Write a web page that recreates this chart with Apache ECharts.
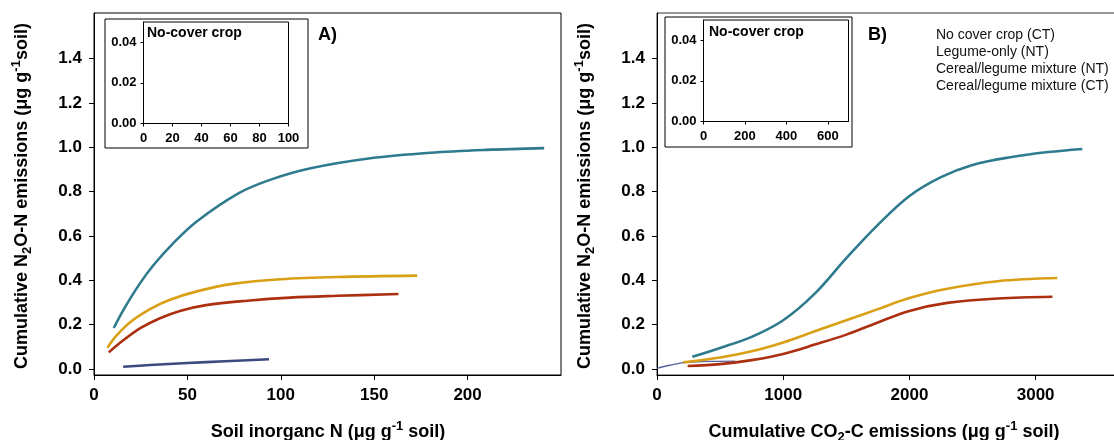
<!DOCTYPE html>
<html>
<head>
<meta charset="utf-8">
<script src="https://cdn.jsdelivr.net/npm/echarts@6/dist/echarts.min.js"></script>
<style>
  html, body { margin: 0; padding: 0; background: #fff; overflow: hidden; }
  #chart { width: 1130px; height: 440px; }
</style>
</head>
<body>
<div id="chart"></div>
<script>
// ---- Panel A: cumulative N2O-N vs soil inorganic N ----
const soilNLegumeNT   = [10.6, 16, 24.5, 32, 41.6, 55, 78, 95, 116, 148, 180, 210, 241];
const n2oALegumeNT    = [0.185, 0.27, 0.385, 0.47, 0.56, 0.665, 0.795, 0.855, 0.905, 0.95, 0.975, 0.988, 0.996];
const soilNMixNT      = [7.2, 12, 20, 30, 40, 55, 75, 100, 130, 173];
const n2oAMixNT       = [0.096, 0.15, 0.215, 0.27, 0.31, 0.35, 0.385, 0.405, 0.415, 0.421];
const soilNMixCT      = [7.9, 15, 25, 35, 46, 60, 82, 105, 130, 163];
const n2oAMixCT       = [0.075, 0.125, 0.185, 0.228, 0.262, 0.288, 0.308, 0.322, 0.330, 0.338];
const soilNNoCover    = [15.6, 30, 50, 70, 93.7];
const n2oANoCover     = [0.010, 0.018, 0.027, 0.035, 0.044];

// ---- Panel B: cumulative N2O-N vs cumulative CO2-C ----
const co2LegumeNT     = [280, 500, 750, 1000, 1250, 1500, 1750, 2000, 2250, 2500, 2800, 3100, 3370];
const n2oBLegumeNT    = [0.055, 0.095, 0.145, 0.22, 0.34, 0.50, 0.65, 0.78, 0.865, 0.92, 0.955, 0.978, 0.992];
const co2MixNT        = [208, 500, 750, 1000, 1250, 1500, 1750, 2000, 2300, 2700, 3172];
const n2oBMixNT       = [0.030, 0.052, 0.080, 0.120, 0.170, 0.220, 0.270, 0.320, 0.362, 0.396, 0.410];
const co2MixCT        = [243, 500, 750, 1000, 1250, 1500, 1750, 2000, 2300, 2700, 3133];
const n2oBMixCT       = [0.0135, 0.022, 0.040, 0.068, 0.110, 0.155, 0.210, 0.262, 0.298, 0.318, 0.326];
const co2NoCover      = [0, 100, 210, 400, 620];
const n2oBNoCover     = [0.003, 0.017, 0.029, 0.034, 0.036];

// ---- tick labels ----
const yTicks       = [0, 0.2, 0.4, 0.6, 0.8, 1.0, 1.2, 1.4];
const xTicksA      = [0, 50, 100, 150, 200];
const xTicksB      = [0, 1000, 2000, 3000];
const insetYTicks  = [0, 0.02, 0.04];
const insetXTicksA = [0, 20, 40, 60, 80, 100];
const insetXTicksB = [0, 200, 400, 600];

const legendItems = ['No cover crop (CT)', 'Legume-only (NT)', 'Cereal/legume mixture (NT)', 'Cereal/legume mixture (CT)'];

const COLORS = { noCover: '#3c4a80', legume: '#2e7b8e', mixNT: '#d9a016', mixCT: '#ac2f10' };
const FONT = '"Liberation Sans", Arial, Helvetica, sans-serif';

const zip = (xs, ys) => xs.map((x, i) => [x, ys[i]]);

const chart = echarts.init(document.getElementById('chart'), null, { renderer: 'canvas' });

function mainX(idx, max, ticks) {
  return {
    type: 'value', gridIndex: idx, min: 0, max: max,
    axisLine: { show: true, onZero: false, lineStyle: { color: '#000', width: 1 } },
    axisTick: { show: true, length: 5, customValues: ticks, lineStyle: { color: '#000' } },
    axisLabel: { customValues: ticks, formatter: v => String(v), fontFamily: FONT, fontWeight: 'bold', fontSize: 17, color: '#000', margin: 12 },
    splitLine: { show: false }
  };
}
function mainY(idx) {
  return {
    type: 'value', gridIndex: idx, min: -0.027, max: 1.605,
    axisLine: { show: true, onZero: false, lineStyle: { color: '#000', width: 1 } },
    axisTick: { show: true, length: 5, customValues: yTicks, lineStyle: { color: '#000' } },
    axisLabel: { customValues: yTicks, formatter: v => v.toFixed(1), fontFamily: FONT, fontWeight: 'bold', fontSize: 17, color: '#000', margin: 12 },
    splitLine: { show: false }
  };
}
function insetX(idx, max, ticks) {
  return {
    type: 'value', gridIndex: idx, min: 0, max: max, z: 5,
    axisLine: { show: true, onZero: false, lineStyle: { color: '#000', width: 1 } },
    axisTick: { show: true, length: 3, customValues: ticks, lineStyle: { color: '#000' } },
    axisLabel: { customValues: ticks, formatter: v => String(v), fontFamily: FONT, fontWeight: 'bold', fontSize: 13, color: '#000', margin: 8 },
    splitLine: { show: false }
  };
}
function insetY(idx) {
  return {
    type: 'value', gridIndex: idx, min: 0, max: 0.05, z: 5,
    axisLine: { show: true, onZero: false, lineStyle: { color: '#000', width: 1 } },
    axisTick: { show: true, length: 3, customValues: insetYTicks, lineStyle: { color: '#000' } },
    axisLabel: { customValues: insetYTicks, formatter: v => v.toFixed(2), fontFamily: FONT, fontWeight: 'bold', fontSize: 13, color: '#000', margin: 7 },
    splitLine: { show: false }
  };
}
function curve(name, xi, yi, xs, ys, color, width) {
  return {
    name: name, type: 'line', xAxisIndex: xi, yAxisIndex: yi,
    data: zip(xs, ys), smooth: 0.35, showSymbol: false, symbol: 'none',
    lineStyle: { color: color, width: width }, itemStyle: { color: color },
    silent: true, z: 3
  };
}

const boldTitle = { fontFamily: FONT, fontWeight: 'bold', fontSize: 18, color: '#000' };
const rich = {
  a:   { fontFamily: FONT, fontWeight: 'bold', fontSize: 18, lineHeight: 24, color: '#000' },
  sub: { fontFamily: FONT, fontWeight: 'bold', fontSize: 13, lineHeight: 13, verticalAlign: 'bottom', color: '#000' },
  sup: { fontFamily: FONT, fontWeight: 'bold', fontSize: 13, lineHeight: 13, verticalAlign: 'top', color: '#000' }
};
const yTitle = '{a|Cumulative N}{sub|2}{a|O-N emissions (μg g}{sup|-1}{a|soil)}';

const option = {
  animation: false,
  backgroundColor: '#fff',
  grid: [
    { left: 94, top: 13, width: 467, height: 362, show: true, borderColor: '#000', borderWidth: 1, backgroundColor: 'transparent' },
    { left: 657, top: 13, width: 467, height: 362, show: true, borderColor: '#333', borderWidth: 1, backgroundColor: 'transparent' },
    { left: 143.5, top: 22, width: 145, height: 101.5, show: true, borderColor: '#000', borderWidth: 1, backgroundColor: '#fff', z: 4 },
    { left: 703.5, top: 20, width: 145, height: 101.5, show: true, borderColor: '#000', borderWidth: 1, backgroundColor: '#fff', z: 4 }
  ],
  xAxis: [
    mainX(0, 250, xTicksA),
    mainX(1, 3700, xTicksB),
    insetX(2, 100, insetXTicksA),
    insetX(3, 700, insetXTicksB)
  ],
  yAxis: [mainY(0), mainY(1), insetY(2), insetY(3)],
  series: [
    curve(legendItems[0], 0, 0, soilNNoCover, n2oANoCover, COLORS.noCover, 2.6),
    curve(legendItems[1], 0, 0, soilNLegumeNT, n2oALegumeNT, COLORS.legume, 2.6),
    curve(legendItems[2], 0, 0, soilNMixNT, n2oAMixNT, COLORS.mixNT, 2.6),
    curve(legendItems[3], 0, 0, soilNMixCT, n2oAMixCT, COLORS.mixCT, 2.6),
    curve(legendItems[0], 1, 1, co2NoCover, n2oBNoCover, '#55609a', 1.3),
    curve(legendItems[1], 1, 1, co2LegumeNT, n2oBLegumeNT, COLORS.legume, 2.6),
    curve(legendItems[2], 1, 1, co2MixNT, n2oBMixNT, COLORS.mixNT, 2.6),
    curve(legendItems[3], 1, 1, co2MixCT, n2oBMixCT, COLORS.mixCT, 2.6),
    // empty inset plots
    { type: 'line', xAxisIndex: 2, yAxisIndex: 2, data: [], showSymbol: false },
    { type: 'line', xAxisIndex: 3, yAxisIndex: 3, data: [], showSymbol: false }
  ],
  graphic: [
    // inset frames
    { type: 'rect', shape: { x: 105, y: 19, width: 203, height: 129 }, style: { fill: 'none', stroke: '#000', lineWidth: 1 }, z: 6, silent: true },
    { type: 'rect', shape: { x: 665, y: 17, width: 187, height: 130 }, style: { fill: 'none', stroke: '#000', lineWidth: 1 }, z: 6, silent: true },
    // inset titles
    { type: 'text', x: 147, y: 33, style: { text: 'No-cover crop', fontFamily: FONT, fontWeight: 'bold', fontSize: 14, fill: '#000', verticalAlign: 'middle' }, z: 6, silent: true },
    { type: 'text', x: 709, y: 32, style: { text: 'No-cover crop', fontFamily: FONT, fontWeight: 'bold', fontSize: 14, fill: '#000', verticalAlign: 'middle' }, z: 6, silent: true },
    // panel letters
    { type: 'text', x: 318, y: 35, style: Object.assign({ text: 'A)', verticalAlign: 'middle' }, boldTitle, { fill: '#000' }), silent: true },
    { type: 'text', x: 868, y: 35, style: Object.assign({ text: 'B)', verticalAlign: 'middle' }, boldTitle, { fill: '#000' }), silent: true },
    // legend entries
    ...legendItems.map((t, i) => ({
      type: 'text', x: 936, y: 35.5 + i * 17,
      style: { text: t, fontFamily: FONT, fontSize: 14, fill: '#111', verticalAlign: 'middle' }, silent: true
    })),
    // axis titles
    { type: 'text', x: 22, y: 196, rotation: Math.PI / 2,
      style: { text: yTitle, rich: rich, align: 'center', verticalAlign: 'middle' }, silent: true },
    { type: 'text', x: 585, y: 196, rotation: Math.PI / 2,
      style: { text: yTitle, rich: rich, align: 'center', verticalAlign: 'middle' }, silent: true },
    { type: 'text', x: 328, y: 432,
      style: { text: '{a|Soil inorganc N (μg g}{sup|-1}{a| soil)}', rich: rich, align: 'center', verticalAlign: 'middle' }, silent: true },
    { type: 'text', x: 884, y: 432,
      style: { text: '{a|Cumulative CO}{sub|2}{a|-C emissions (μg g}{sup|-1}{a| soil)}', rich: rich, align: 'center', verticalAlign: 'middle' }, silent: true }
  ]
};

chart.setOption(option);
</script>
</body>
</html>
